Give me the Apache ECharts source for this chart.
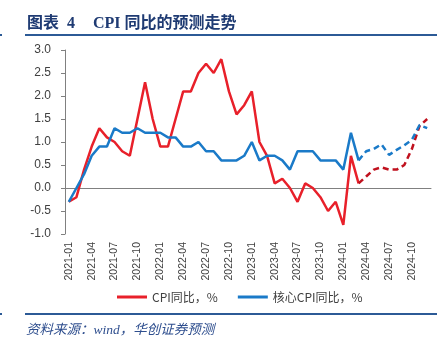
<!DOCTYPE html>
<html>
<head>
<meta charset="utf-8">
<title>CPI同比的预测走势</title>
<script src="https://cdn.jsdelivr.net/npm/echarts@6.0.0/dist/echarts.min.js"></script>
<style>
    html, body { margin: 0; padding: 0; background: #fff; }
    #div_cpi { width: 448px; height: 352px; }
</style>
</head>
<body>
<div id="div_cpi"></div>
<script>
// 月份（2021-01 ~ 2024-12）
const months = [
    '2021-01', '2021-02', '2021-03', '2021-04', '2021-05', '2021-06', '2021-07', '2021-08', '2021-09', '2021-10', '2021-11', '2021-12',
    '2022-01', '2022-02', '2022-03', '2022-04', '2022-05', '2022-06', '2022-07', '2022-08', '2022-09', '2022-10', '2022-11', '2022-12',
    '2023-01', '2023-02', '2023-03', '2023-04', '2023-05', '2023-06', '2023-07', '2023-08', '2023-09', '2023-10', '2023-11', '2023-12',
    '2024-01', '2024-02', '2024-03', '2024-04', '2024-05', '2024-06', '2024-07', '2024-08', '2024-09', '2024-10', '2024-11', '2024-12'
];
// CPI同比 实际值（到2024-03）
const cpiActual = [
    -0.3, -0.2, 0.4, 0.9, 1.3, 1.1, 1.0, 0.8, 0.7, 1.5, 2.3, 1.5,
    0.9, 0.9, 1.5, 2.1, 2.1, 2.5, 2.7, 2.5, 2.8, 2.1, 1.6, 1.8,
    2.1, 1.0, 0.7, 0.1, 0.2, 0.0, -0.3, 0.1, 0.0, -0.2, -0.5, -0.3,
    -0.8, 0.7, 0.1
];
// CPI同比 预测值（2024-03 ~ 2024-12）
const cpiForecast = [0.1, 0.25, 0.4, 0.45, 0.4, 0.4, 0.5, 0.85, 1.35, 1.5];
// 核心CPI同比 实际值
const coreActual = [
    -0.3, 0.0, 0.3, 0.7, 0.9, 0.9, 1.3, 1.2, 1.2, 1.3, 1.2, 1.2,
    1.2, 1.1, 1.1, 0.9, 0.9, 1.0, 0.8, 0.8, 0.6, 0.6, 0.6, 0.7,
    1.0, 0.6, 0.7, 0.7, 0.6, 0.4, 0.8, 0.8, 0.8, 0.6, 0.6, 0.6,
    0.4, 1.2, 0.6
];
// 核心CPI同比 预测值
const coreForecast = [0.6, 0.8, 0.85, 0.95, 0.72, 0.83, 0.93, 1.05, 1.37, 1.3];

const forecastStart = cpiActual.length - 1;

/**
 * 实际值补齐空值
 */
const padActual = function (arr) {
    const out = arr.slice();
    while (out.length < months.length) out.push(null);
    return out;
}

/**
 * 预测值前面补空值
 */
const padForecast = function (arr) {
    const out = [];
    for (let i = 0; i < forecastStart; i++) out.push(null);
    return out.concat(arr);
}

const initCpiChart = function () {
    const axisColor = '#808080';
    const labelColor = '#404040';
    const navy = '#1f3b73';
    const ruleColor = '#2c5a96';

    const option = {
        animation: false,
        grid: {
            left: 65,
            right: 17,
            top: 50,
            bottom: 118
        },
        legend: {
            data: ['CPI同比，%', '核心CPI同比，%'],
            left: 112,
            top: 286,
            itemWidth: 30,
            itemHeight: 3,
            itemGap: 20,
            icon: 'rect',
            textStyle: {
                fontFamily: 'Noto Sans CJK SC',
                fontSize: 12,
                color: labelColor
            }
        },
        xAxis: [
            {
                type: 'category',
                data: months,
                boundaryGap: true,
                axisLine: {
                    onZero: true,
                    lineStyle: {color: axisColor, width: 1}
                },
                axisTick: {
                    interval: 2,
                    length: 4,
                    lineStyle: {color: axisColor}
                },
                axisLabel: {show: false}
            },
            {
                type: 'category',
                data: months,
                position: 'bottom',
                boundaryGap: true,
                axisLine: {show: false, onZero: false},
                axisTick: {show: false},
                axisLabel: {
                    interval: 2,
                    rotate: 90,
                    margin: 8,
                    fontFamily: 'Liberation Sans',
                    fontSize: 10.5,
                    color: labelColor
                }
            }
        ],
        yAxis: {
            type: 'value',
            min: -1,
            max: 3,
            interval: 0.5,
            axisLine: {
                show: true,
                lineStyle: {color: axisColor, width: 1}
            },
            axisTick: {
                show: true,
                length: 4,
                lineStyle: {color: axisColor}
            },
            splitLine: {show: false},
            axisLabel: {
                margin: 14,
                fontFamily: 'Liberation Sans',
                fontSize: 12,
                color: labelColor,
                formatter: function (v) {
                    return v.toFixed(1);
                }
            }
        },
        series: [
            {
                name: 'CPI同比，%',
                type: 'line',
                data: padActual(cpiActual),
                showSymbol: false,
                symbol: 'none',
                color: '#e8202a',
                lineStyle: {width: 2.5, color: '#e8202a'}
            },
            {
                name: 'CPI同比预测',
                type: 'line',
                data: padForecast(cpiForecast),
                showSymbol: false,
                symbol: 'none',
                lineStyle: {width: 2.5, color: '#c0111e', type: [6, 4]}
            },
            {
                name: '核心CPI同比，%',
                type: 'line',
                data: padActual(coreActual),
                showSymbol: false,
                symbol: 'none',
                color: '#1a7ac8',
                lineStyle: {width: 2.5, color: '#1a7ac8'}
            },
            {
                name: '核心CPI同比预测',
                type: 'line',
                data: padForecast(coreForecast),
                showSymbol: false,
                symbol: 'none',
                lineStyle: {width: 2.5, color: '#1a7ac8', type: [6, 4]}
            }
        ],
        graphic: [
            // 标题
            {
                type: 'text',
                left: 27,
                top: 16,
                style: {
                    text: '图表  4',
                    fill: navy,
                    font: 'bold 16px "Liberation Serif", "Noto Sans CJK SC"'
                }
            },
            {
                type: 'text',
                left: 93,
                top: 16,
                style: {
                    text: 'CPI 同比的预测走势',
                    fill: navy,
                    font: 'bold 16px "Liberation Serif", "Noto Sans CJK SC"'
                }
            },
            // 标题下横线
            {
                type: 'line',
                shape: {x1: 25, y1: 35, x2: 437, y2: 35},
                style: {stroke: ruleColor, lineWidth: 2}
            },
            {
                type: 'line',
                shape: {x1: 0, y1: 35, x2: 2, y2: 35},
                style: {stroke: ruleColor, lineWidth: 2}
            },
            // 底部横线
            {
                type: 'line',
                shape: {x1: 25, y1: 314, x2: 437, y2: 314},
                style: {stroke: ruleColor, lineWidth: 2}
            },
            {
                type: 'line',
                shape: {x1: 0, y1: 314, x2: 2, y2: 314},
                style: {stroke: ruleColor, lineWidth: 2}
            },
            // 资料来源
            {
                type: 'text',
                left: 26,
                top: 324,
                style: {
                    text: '资料来源：wind，华创证券预测',
                    fill: '#2e4e8e',
                    font: 'italic 13.5px "Liberation Serif", "Noto Sans CJK SC"'
                }
            }
        ]
    };

    const div_cpi = echarts.init(document.getElementById('div_cpi'));
    div_cpi.setOption(option);
}

initCpiChart();
</script>
</body>
</html>
